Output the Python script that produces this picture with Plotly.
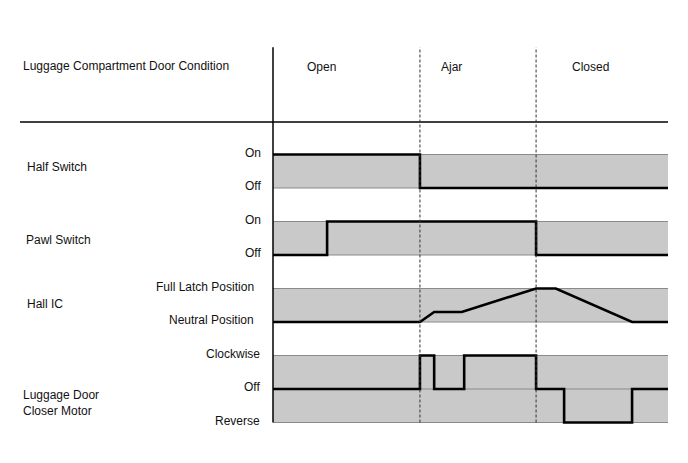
import plotly.graph_objects as go

# ---- data (time in arbitrary units 0..100) ----
phases = ["Open", "Ajar", "Closed"]
phase_bounds = [0, 37.2, 66.6, 100]
phase_label_t = [12.4, 45.3, 80.3]

rows = ["Half Switch", "Pawl Switch", "Hall IC", "Luggage Door<br>Closer Motor"]
row_base = [7, 5, 3, 1]
row_levels = [[0, 1], [0, 1], [0, 1], [-1, 0, 1]]
level_labels = [["Off", "On"], ["Off", "On"],
                ["Neutral Position", "Full Latch Position"],
                ["Reverse", "Off", "Clockwise"]]

half_t = [0, 37.2, 37.2, 100]
half_v = [1, 1, 0, 0]
pawl_t = [0, 13.7, 13.7, 66.6, 66.6, 100]
pawl_v = [0, 0, 1, 1, 0, 0]
hall_t = [0, 37.2, 40.8, 47.8, 66.6, 71.6, 90.9, 100]
hall_v = [0, 0, 0.3, 0.3, 1, 1, 0, 0]
motor_t = [0, 37.2, 37.2, 40.8, 40.8, 48.4, 48.4, 66.6, 66.6, 73.7, 73.7, 90.9, 90.9, 100]
motor_v = [0, 0, 1, 1, 0, 0, 1, 1, 0, 0, -1, -1, 0, 0]

signals = [(half_t, half_v), (pawl_t, pawl_v), (hall_t, hall_v), (motor_t, motor_v)]

FONT = "Liberation Sans, Arial, sans-serif"
FILL = "#c9c9c9"
EDGE = "#8a8a8a"

fig = go.Figure()
shapes = []
annotations = []

t0, t1 = phase_bounds[0], phase_bounds[-1]

# bands
for base, levels in zip(row_base, row_levels):
    lo, hi = base + min(levels), base + max(levels)
    shapes.append(dict(type="rect", xref="x", yref="y", x0=t0, x1=t1, y0=lo, y1=hi,
                       fillcolor=FILL, line=dict(width=0), layer="below"))
    for lv in levels:
        shapes.append(dict(type="line", xref="x", yref="y", x0=t0, x1=t1,
                           y0=base + lv, y1=base + lv,
                           line=dict(color=EDGE, width=1), layer="below"))

# signals
for (t, v), base in zip(signals, row_base):
    fig.add_trace(go.Scatter(x=t, y=[base + val for val in v], mode="lines",
                             line=dict(color="black", width=2.6, shape="linear"),
                             hoverinfo="skip", showlegend=False))

top = 11.2
bottom = 0
# vertical axis line and header line
shapes.append(dict(type="line", xref="x", yref="y", x0=t0, x1=t0, y0=bottom, y1=top,
                   line=dict(color="black", width=1.5), layer="above"))
shapes.append(dict(type="line", xref="x", yref="y", x0=-64.05, x1=t1, y0=8.97, y1=8.97,
                   line=dict(color="black", width=1.5), layer="above"))
# phase boundaries
for b in phase_bounds[1:-1]:
    shapes.append(dict(type="line", xref="x", yref="y", x0=b, x1=b, y0=bottom, y1=top,
                       line=dict(color="#333333", width=1, dash="3px,2px"), layer="above"))

# header texts
annotations.append(dict(x=-63.8, y=10.64, xref="x", yref="y", text="Luggage Compartment Door Condition",
                        showarrow=False, xanchor="left", yanchor="middle"))
for name, tl in zip(phases, phase_label_t):
    annotations.append(dict(x=tl, y=10.6, xref="x", yref="y", text=name,
                            showarrow=False, xanchor="center", yanchor="middle"))

# row names
row_name_y = [7.63, 5.45, 3.54, 0.58]
row_name_x = [-62.8, -63.1, -62.8, -63.8]
for name, x, y in zip(rows, row_name_x, row_name_y):
    annotations.append(dict(x=x, y=y, xref="x", yref="y", text=name, showarrow=False,
                            xanchor="left", yanchor="middle", align="left"))

# level labels
label_right = [-2.6, -2.6, -4.3, -2.7]
for base, levels, labels, xr in zip(row_base, row_levels, level_labels, label_right):
    for lv, lab in zip(levels, labels):
        annotations.append(dict(x=xr, y=base + lv, xref="x", yref="y", text=lab, showarrow=False,
                                xanchor="right", yanchor="middle", yshift=2))

fig.update_layout(
    width=688, height=463,
    margin=dict(l=0, r=0, t=0, b=0),
    paper_bgcolor="white", plot_bgcolor="white",
    shapes=shapes, annotations=annotations,
    font=dict(family=FONT, size=12, color="#111111"),
    xaxis=dict(range=[-69.11, 105.06], visible=False, fixedrange=True),
    yaxis=dict(range=[-1.209, 12.612], visible=False, fixedrange=True),
    showlegend=False,
)

fig.write_html("out.html")
